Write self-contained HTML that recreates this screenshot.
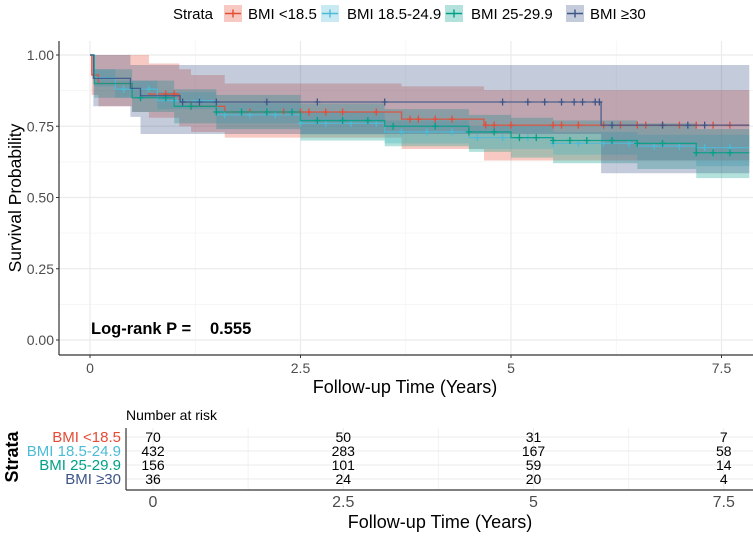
<!DOCTYPE html>
<html><head><meta charset="utf-8"><style>
html,body{margin:0;padding:0;background:#fff}
svg{display:block;font-family:"Liberation Sans",Arial,sans-serif}
</style></head><body>
<svg id="c" width="753" height="536" viewBox="0 0 753 536">
<g id="grid"></g>
<g id="bands"></g>
<g id="lines"></g>
<g id="axes"></g>
<g id="legend"></g>
<g id="table"></g>
</svg>
<script>
const seriesNames = ["BMI <18.5","BMI 18.5-24.9","BMI 25-29.9","BMI \u226530"];
const seriesColors = ["#E64B35","#4DBBD5","#00A087","#3C5488"];
const xTicks = [0,2.5,5,7.5];
const xTickLabels = ["0","2.5","5","7.5"];
const yTicks = [0,0.25,0.5,0.75,1];
const yTickLabels = ["0.00","0.25","0.50","0.75","1.00"];
const redT = [0,0.02,0.1,0.5,0.7,1.06,1.2,1.6,3.7,4.68,7.83];
const redS = [1,0.93,0.9,0.88,0.863,0.84,0.82,0.80,0.775,0.754,0.754];
const redLo = [1,0.86,0.82,0.80,0.78,0.75,0.73,0.71,0.67,0.63,0.62];
const redHi = [1,1,1,1,0.97,0.95,0.93,0.90,0.89,0.877,0.877];
const cyanT = [0,0.05,0.3,0.8,1.5,2.5,3.5,4.5,5.5,6.5,7.2,7.83];
const cyanS = [1,0.92,0.88,0.84,0.79,0.76,0.73,0.71,0.69,0.68,0.675,0.675];
const cyanLo = [1,0.89,0.85,0.81,0.76,0.72,0.69,0.67,0.65,0.63,0.61,0.61];
const cyanHi = [1,0.95,0.91,0.87,0.83,0.80,0.77,0.75,0.73,0.72,0.72,0.72];
const greenT = [0,0.05,0.5,1,1.5,2.5,3.5,4.5,5,5.5,6.5,7.2,7.83];
const greenS = [1,0.9,0.85,0.82,0.80,0.77,0.75,0.73,0.71,0.70,0.69,0.657,0.657];
const greenLo = [1,0.85,0.80,0.76,0.74,0.70,0.68,0.66,0.64,0.62,0.60,0.568,0.568];
const greenHi = [1,0.95,0.91,0.88,0.86,0.83,0.81,0.79,0.78,0.77,0.76,0.74,0.74];
const navyT = [0,0.04,0.48,0.6,1.07,6.07,7.83];
const navyS = [1,0.918,0.883,0.857,0.835,0.754,0.754];
const navyLo = [1,0.82,0.783,0.723,0.723,0.585,0.585];
const navyHi = [1,1,0.965,0.965,0.965,0.965,0.965];
const redCens = [0.9,1.0,1.2,1.9,2.3,2.5,2.6,2.8,3.0,3.4,3.8,3.9,4.1,4.3,4.7,4.8,5.0,5.5,5.6,5.8,6.1,6.3,6.5,6.6,6.8,7.0,7.2,7.4,7.6];
const cyanCens = [0.4,0.7,1.0,1.3,1.6,1.9,2.2,2.5,2.8,3.1,3.4,3.7,4.0,4.3,4.6,4.9,5.2,5.5,5.8,6.1,6.4,6.7,7.0,7.3,7.6];
const greenCens = [0.6,0.9,1.2,1.5,1.8,2.1,2.4,2.7,3.0,3.3,3.6,4.1,4.5,4.8,5.1,5.3,5.5,5.7,5.9,6.2,6.5,6.8,7.2,7.4,7.6];
const navyCens = [1.1,1.3,1.5,2.1,2.7,3.5,4.9,5.2,5.4,5.6,5.75,5.85,6.0,6.05,6.2,6.8,7.1,7.3];
const riskRows = [[70,50,31,7],[432,283,167,58],[156,101,59,14],[36,24,20,4]];

const NS="http://www.w3.org/2000/svg";
function el(tag,attrs,parent,txt){const e=document.createElementNS(NS,tag);for(const k in attrs)e.setAttribute(k,attrs[k]);if(txt!==undefined)e.textContent=txt;parent.appendChild(e);return e;}
const X0=90,XS=84.2,YB=340,YS=285,PL=59,PR=753,PT=41,PBot=355;
const xs=t=>X0+XS*t, ys=s=>YB-YS*s;
const G=id=>document.getElementById(id);
const grid=G('grid');
for(let v=0.125;v<1.1;v+=0.25){const l=el('line',{x1:PL,x2:PR,y1:ys(v),y2:ys(v),stroke:'#f4f4f4','stroke-width':0.8},grid);}
for(let v=1.25;v<8;v+=2.5){const l=el('line',{x1:xs(v),x2:xs(v),y1:PT,y2:PBot,stroke:'#f4f4f4','stroke-width':0.8},grid);}
yTicks.forEach(v=>{const l=el('line',{x1:PL,x2:PR,y1:ys(v),y2:ys(v),stroke:'#ebebeb','stroke-width':1.2},grid);});
xTicks.forEach(v=>{const l=el('line',{x1:xs(v),x2:xs(v),y1:PT,y2:PBot,stroke:'#ebebeb','stroke-width':1.2},grid);});
function stepPts(T,S){const p=[[xs(T[0]),ys(S[0])]];for(let i=1;i<T.length;i++){p.push([xs(T[i]),ys(S[i-1])]);p.push([xs(T[i]),ys(S[i])]);}return p;}
function stepLine(T,S){return 'M'+stepPts(T,S).map(p=>p.join(',')).join('L');}
function stepBand(T,L,H){const up=stepPts(T,H),lo=stepPts(T,L).reverse();return 'M'+up.concat(lo).map(p=>p.join(',')).join('L')+'Z';}
function survAt(T,S,t){let s=S[0];for(let i=0;i<T.length;i++){if(T[i]<=t)s=S[i];}return s;}
const all=[[redT,redS,redLo,redHi,redCens],[cyanT,cyanS,cyanLo,cyanHi,cyanCens],[greenT,greenS,greenLo,greenHi,greenCens],[navyT,navyS,navyLo,navyHi,navyCens]];
const bands=G('bands'),lines=G('lines');
all.forEach((a,i)=>{const b=el('path',{d:stepBand(a[0],a[2],a[3]),fill:seriesColors[i],'fill-opacity':0.3,stroke:'none'},bands);});
all.forEach((a,i)=>{const c=seriesColors[i];const p=el('path',{d:stepLine(a[0],a[1]),fill:'none',stroke:c,'stroke-width':1.3,'stroke-opacity':0.85},lines);
a[4].forEach(t=>{const x=xs(t),y=ys(survAt(a[0],a[1],t));const m=el('path',{d:`M${x-3},${y}H${x+3}M${x},${y-3.5}V${y+3.5}`,stroke:c,'stroke-width':1.3},lines);});});
const ax=G('axes');
el('line',{x1:PL,x2:PL,y1:PT,y2:PBot,stroke:'#333','stroke-width':1.2},ax);
el('line',{x1:PL,x2:PR,y1:PBot,y2:PBot,stroke:'#333','stroke-width':1.2},ax);
yTicks.forEach((v,i)=>{el('line',{x1:PL-3,x2:PL,y1:ys(v),y2:ys(v),stroke:'#333'},ax);const t=el('text',{x:PL-5,y:ys(v)+5,'text-anchor':'end','font-size':14,fill:'#4d4d4d'},ax,yTickLabels[i]);});
xTicks.forEach((v,i)=>{el('line',{x1:xs(v),x2:xs(v),y1:PBot,y2:PBot+3,stroke:'#333'},ax);const t=el('text',{x:xs(v),y:373,'text-anchor':'middle','font-size':14,fill:'#4d4d4d'},ax,xTickLabels[i]);});
</script>
<script>
(function(){
const NS="http://www.w3.org/2000/svg";
function el(tag,attrs,parent,txt){const e=document.createElementNS(NS,tag);for(const k in attrs)e.setAttribute(k,attrs[k]);if(txt!==undefined)e.textContent=txt;parent.appendChild(e);return e;}
const ax=document.getElementById('axes');
let t=el('text',{x:0,y:0,transform:'translate(21,198) rotate(-90)','text-anchor':'middle','font-size':17.5,fill:'#000'},ax,'Survival Probability');

t=el('text',{x:405,y:393,'text-anchor':'middle','font-size':18,fill:'#000'},ax,'Follow-up Time (Years)');

t=el('text',{x:91,y:334,'font-size':16.5,'font-weight':'bold',fill:'#000'},ax,'Log-rank P =');

t=el('text',{x:210,y:334,'font-size':16.5,'font-weight':'bold',fill:'#000'},ax,'0.555');

const lg=document.getElementById('legend');
t=el('text',{x:173,y:19,'font-size':15,fill:'#000'},lg,'Strata');

const kx=[224,321,445,566], tx=[248,347,471,590];
seriesNames.forEach((n,i)=>{const g=el('g',{},lg);
el('rect',{x:kx[i],y:5,width:18,height:17,fill:seriesColors[i],'fill-opacity':0.3},g);
el('path',{d:`M${kx[i]+1},13.5H${kx[i]+17}M${kx[i]+9},9.5V17.5`,stroke:seriesColors[i],'stroke-width':1.4},g);
el('text',{x:tx[i],y:19,'font-size':15,fill:'#000'},g,n);});
const tb=document.getElementById('table');
const TX0=153,TXS=76.1,TL=126,TB=490,rowsY=[437,451,465,479];
const txs=v=>TX0+TXS*v;
[1.25,3.75,6.25].forEach(v=>el('line',{x1:txs(v),x2:txs(v),y1:428,y2:TB,stroke:'#f2f2f2'},tb));
xTicks.forEach(v=>el('line',{x1:txs(v),x2:txs(v),y1:428,y2:TB,stroke:'#ebebeb'},tb));
rowsY.forEach(y=>el('line',{x1:TL,x2:753,y1:y,y2:y,stroke:'#ebebeb'},tb));
el('line',{x1:TL,x2:TL,y1:428,y2:TB,stroke:'#333','stroke-width':1.2},tb);
el('line',{x1:TL,x2:753,y1:TB,y2:TB,stroke:'#333','stroke-width':1.2},tb);
t=el('text',{x:126,y:420,'font-size':14,fill:'#000'},tb,'Number at risk');

riskRows.forEach((r,i)=>{
 const lab=el('text',{x:121,y:rowsY[i]+5,'text-anchor':'end','font-size':15,fill:seriesColors[i]},tb,seriesNames[i]);
 
 r.forEach((v,j)=>{const c=el('text',{x:txs(xTicks[j]),y:rowsY[i]+5,'text-anchor':'middle','font-size':14,fill:'#000'},tb,String(v));});});
xTicks.forEach((v,i)=>{const c=el('text',{x:txs(v),y:507,'text-anchor':'middle','font-size':16,fill:'#4d4d4d'},tb,xTickLabels[i]);});
t=el('text',{x:440,y:528,'text-anchor':'middle','font-size':18,fill:'#000'},tb,'Follow-up Time (Years)');

t=el('text',{x:0,y:0,transform:'translate(18,457) rotate(-90)','text-anchor':'middle','font-size':18,'font-weight':'bold',fill:'#000'},tb,'Strata');

})();
</script>
</body></html>
